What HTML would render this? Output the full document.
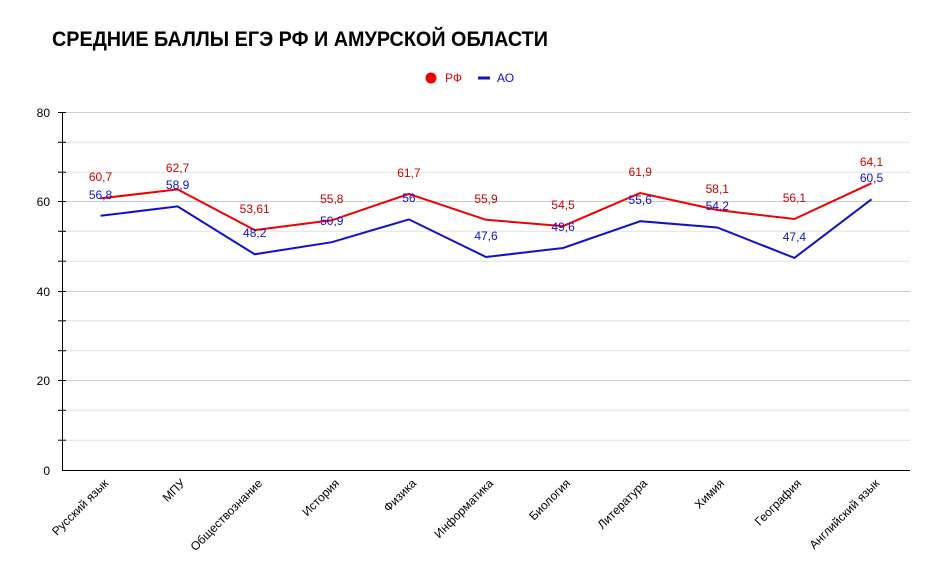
<!DOCTYPE html>
<html><head><meta charset="utf-8"><style>body{margin:0;background:#fff}svg{display:block}</style></head>
<body>
<svg width="939" height="579" xmlns="http://www.w3.org/2000/svg" font-family="Liberation Sans, Arial, sans-serif">
<rect width="939" height="579" fill="#fff"/>
<text x="52" y="46" font-size="21" font-weight="bold" textLength="496" lengthAdjust="spacingAndGlyphs">СРЕДНИЕ БАЛЛЫ ЕГЭ РФ И АМУРСКОЙ ОБЛАСТИ</text>
<circle cx="431" cy="78" r="5.5" fill="#e00"/>
<text x="445" y="82" font-size="12" fill="#e00">РФ</text>
<rect x="478" y="76.5" width="12" height="3" fill="#11c"/>
<text x="497" y="82" font-size="12" fill="#11c">АО</text>
<g stroke="#e2e2e2" stroke-width="1">
<line x1="62" x2="910" y1="112.5" y2="112.5" stroke="#ccc"/>
<line x1="62" x2="910" y1="142.3" y2="142.3"/>
<line x1="62" x2="910" y1="172.2" y2="172.2"/>
<line x1="62" x2="910" y1="201.5" y2="201.5" stroke="#ccc"/>
<line x1="62" x2="910" y1="231.3" y2="231.3"/>
<line x1="62" x2="910" y1="261.2" y2="261.2"/>
<line x1="62" x2="910" y1="291.5" y2="291.5" stroke="#ccc"/>
<line x1="62" x2="910" y1="320.8" y2="320.8"/>
<line x1="62" x2="910" y1="350.7" y2="350.7"/>
<line x1="62" x2="910" y1="380.5" y2="380.5" stroke="#ccc"/>
<line x1="62" x2="910" y1="410.3" y2="410.3"/>
<line x1="62" x2="910" y1="440.2" y2="440.2"/>
</g>
<g stroke="#000" stroke-width="1">
<line x1="62.5" x2="62.5" y1="112" y2="470"/>
<line x1="62" x2="910" y1="470.5" y2="470.5"/>
<line x1="58" x2="66" y1="112.5" y2="112.5"/><line x1="58" x2="66" y1="142.3" y2="142.3"/><line x1="58" x2="66" y1="172.2" y2="172.2"/>
<line x1="58" x2="66" y1="201.5" y2="201.5"/><line x1="58" x2="66" y1="231.3" y2="231.3"/><line x1="58" x2="66" y1="261.2" y2="261.2"/>
<line x1="58" x2="66" y1="291.5" y2="291.5"/><line x1="58" x2="66" y1="320.8" y2="320.8"/><line x1="58" x2="66" y1="350.7" y2="350.7"/>
<line x1="58" x2="66" y1="380.5" y2="380.5"/><line x1="58" x2="66" y1="410.3" y2="410.3"/><line x1="58" x2="66" y1="440.2" y2="440.2"/>
</g>
<g font-size="12" text-anchor="end">
<text x="50" y="117">80</text><text x="50" y="206">60</text><text x="50" y="296">40</text><text x="50" y="385">20</text><text x="50" y="475">0</text>
</g>
<polyline fill="none" stroke="#e00" stroke-width="2" points="100.5,198.4 177.6,189.4 254.7,230.1 331.8,220.3 408.9,193.9 486,219.8 563.1,226.1 640.2,193 717.3,210 794.4,219 871.5,183.2"/>
<polyline fill="none" stroke="#11c" stroke-width="2" points="100.5,215.8 177.6,206.4 254.7,254.3 331.8,242.2 408.9,219.4 486,257 563.1,248 640.2,221.2 717.3,227.5 794.4,257.9 871.5,199.3"/>
<g font-size="12" text-anchor="middle" fill="#c00">
<text x="100.5" y="181">60,7</text><text x="177.6" y="172">62,7</text><text x="254.7" y="213">53,61</text><text x="331.8" y="203">55,8</text><text x="408.9" y="177">61,7</text><text x="486" y="203">55,9</text><text x="563.1" y="209">54,5</text><text x="640.2" y="176">61,9</text><text x="717.3" y="193">58,1</text><text x="794.4" y="202">56,1</text><text x="871.5" y="166">64,1</text>
</g>
<g font-size="12" text-anchor="middle" fill="#11c">
<text x="100.5" y="199">56,8</text><text x="177.6" y="189">58,9</text><text x="254.7" y="237">48,2</text><text x="331.8" y="225">50,9</text><text x="408.9" y="202">56</text><text x="486" y="240">47,6</text><text x="563.1" y="231">49,6</text><text x="640.2" y="204">55,6</text><text x="717.3" y="210">54,2</text><text x="794.4" y="241">47,4</text><text x="871.5" y="182">60,5</text>
</g>
<g font-size="12" text-anchor="end">
<text transform="translate(109,484) rotate(-45)">Русский язык</text>
<text transform="translate(186,484) rotate(-45)">МПУ</text>
<text transform="translate(263,484) rotate(-45)">Обществознание</text>
<text transform="translate(340,484) rotate(-45)">История</text>
<text transform="translate(417,484) rotate(-45)">Физика</text>
<text transform="translate(494,484) rotate(-45)">Информатика</text>
<text transform="translate(571,484) rotate(-45)">Биология</text>
<text transform="translate(648,484) rotate(-45)">Литература</text>
<text transform="translate(725,484) rotate(-45)">Химия</text>
<text transform="translate(802,484) rotate(-45)">География</text>
<text transform="translate(880,484) rotate(-45)">Английский язык</text>
</g>
</svg>
</body></html>
